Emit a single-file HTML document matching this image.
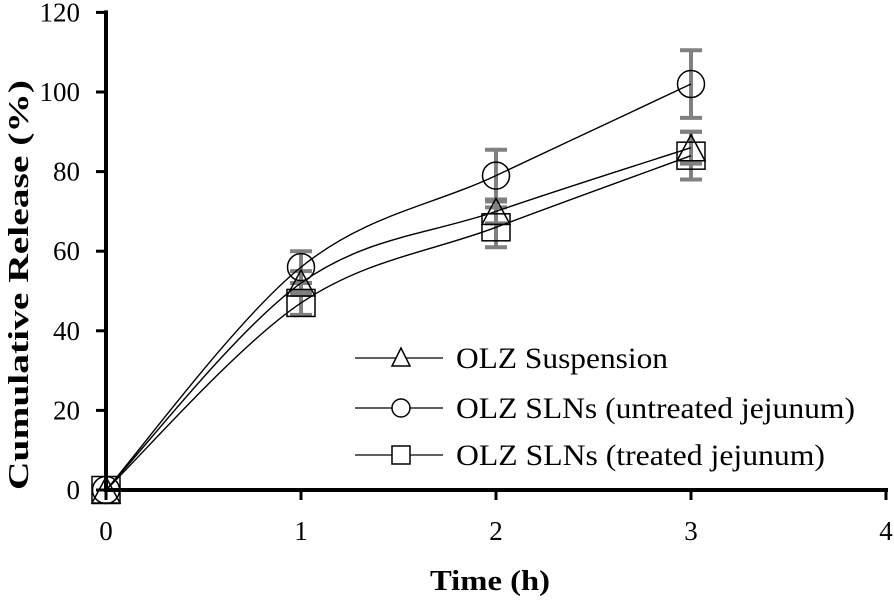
<!DOCTYPE html>
<html><head><meta charset="utf-8"><style>
body{margin:0;background:#fff}
svg{display:block;font-family:"Liberation Serif",serif}
</style></head><body>
<svg id="chart" width="894" height="601">
<g id="axes"></g>
<g id="series"></g>
<text x="490" y="590" text-anchor="middle" font-size="28" font-weight="bold" textLength="120" lengthAdjust="spacingAndGlyphs">Time (h)</text>
<text transform="translate(28,285) rotate(-90)" text-anchor="middle" font-size="29" font-weight="bold" textLength="410" lengthAdjust="spacingAndGlyphs">Cumulative Release (%)</text>
<g font-size="30">
 <g>
  <line x1="355" y1="358" x2="443" y2="358" stroke="#000" stroke-width="1.3"/>
  <polygon points="401,348 392,366 410,366" fill="#fff" stroke="#000" stroke-width="1.5"/>
  <text x="456" y="368" textLength="212" lengthAdjust="spacingAndGlyphs">OLZ Suspension</text></g>
 <g>
  <line x1="355" y1="408" x2="443" y2="408" stroke="#000" stroke-width="1.3"/>
  <circle cx="401" cy="408" r="9" fill="#fff" stroke="#000" stroke-width="1.5"/>
  <text x="456" y="418" textLength="399" lengthAdjust="spacingAndGlyphs">OLZ SLNs (untreated jejunum)</text></g>
 <g>
  <line x1="355" y1="455" x2="443" y2="455" stroke="#000" stroke-width="1.3"/>
  <rect x="392" y="446" width="18" height="18" fill="#fff" stroke="#000" stroke-width="1.5"/>
  <text x="456" y="465" textLength="369" lengthAdjust="spacingAndGlyphs">OLZ SLNs (treated jejunum)</text></g>
</g>
</svg>
<script>
const times=[0,1,2,3];
const suspension=[0,52,70,86];
const suspensionErr=[0,3,3,4];
const untreated=[0,56,79,102];
const untreatedErr=[0,4,6.5,8.5];
const treated=[0,47,66,84];
const treatedErr=[0,3,5,6];
const xTicks=[0,1,2,3,4];
const yTicks=[0,20,40,60,80,100,120];

const NS='http://www.w3.org/2000/svg';
const X=v=>106+v*195;
const Y=v=>490-v*3.98;
function mk(p,tag,attrs){const e=document.createElementNS(NS,tag);for(const k in attrs)e.setAttribute(k,attrs[k]);p.appendChild(e);return e;}
const ax=document.getElementById('axes');
let l=mk(ax,'line',{x1:X(0),y1:Y(0),x2:X(4)+2,y2:Y(0),stroke:'#000','stroke-width':4});


l=mk(ax,'line',{x1:X(0),y1:Y(120)-2,x2:X(0),y2:Y(0)+2,stroke:'#000','stroke-width':4});


xTicks.forEach(t=>{
 mk(ax,'line',{x1:X(t),y1:Y(0),x2:X(t),y2:Y(0)+10,stroke:'#000','stroke-width':3});
 const tx=mk(ax,'text',{x:X(t),y:Y(0)+50,'text-anchor':'middle','font-size':27});
 tx.textContent=t;
 
 
});
yTicks.forEach(t=>{
 mk(ax,'line',{x1:X(0)-10,y1:Y(t),x2:X(0),y2:Y(t),stroke:'#000','stroke-width':3});
 const tx=mk(ax,'text',{x:X(0)-26,y:Y(t)+9,'text-anchor':'end','font-size':27});
 tx.textContent=t;
 
 
});
function smooth(pts){
 let d='M'+pts[0][0]+','+pts[0][1];const k=1/6;
 for(let i=0;i<pts.length-1;i++){
  const p0=pts[i-1]||pts[i],p1=pts[i],p2=pts[i+1],p3=pts[i+2]||p2;
  d+=' C'+(p1[0]+(p2[0]-p0[0])*k)+','+(p1[1]+(p2[1]-p0[1])*k)+' '+(p2[0]-(p3[0]-p1[0])*k)+','+(p2[1]-(p3[1]-p1[1])*k)+' '+p2[0]+','+p2[1];
 }return d;}
const sg=document.getElementById('series');
const eg=mk(sg,'g',{});


const defs=[['suspension',suspension,suspensionErr,'tri'],['untreated',untreated,untreatedErr,'circ'],['treated',treated,treatedErr,'sq']];
defs.forEach(([n,vals,errs])=>{
 times.forEach((t,i)=>{if(!errs[i])return;
  const x=X(t),a=Y(vals[i]+errs[i]),b=Y(vals[i]-errs[i]);
  mk(eg,'line',{x1:x,y1:a,x2:x,y2:b,stroke:'#808080','stroke-width':4});
  mk(eg,'line',{x1:x-11,y1:a,x2:x+11,y2:a,stroke:'#808080','stroke-width':4});
  mk(eg,'line',{x1:x-11,y1:b,x2:x+11,y2:b,stroke:'#808080','stroke-width':4});
 });
});
defs.forEach(([n,vals,errs,m])=>{
 const g=mk(sg,'g',{});
 
 
 const pts=times.map((t,i)=>[X(t),Y(vals[i])]);
 mk(g,'path',{d:smooth(pts),fill:'none',stroke:'#000','stroke-width':1.4});
 pts.forEach(([x,y])=>{let e;
  if(m==='tri')e=mk(g,'polygon',{points:`${x},${y-13} ${x-14},${y+13} ${x+14},${y+13}`,fill:'none',stroke:'#000','stroke-width':1.5});
  else if(m==='circ')e=mk(g,'circle',{cx:x,cy:y,r:13.5,fill:'none',stroke:'#000','stroke-width':1.5});
  else e=mk(g,'rect',{x:x-14,y:y-13.5,width:28,height:27,fill:'none',stroke:'#000','stroke-width':1.5});
  
  
 });
});
</script>
</body></html>
